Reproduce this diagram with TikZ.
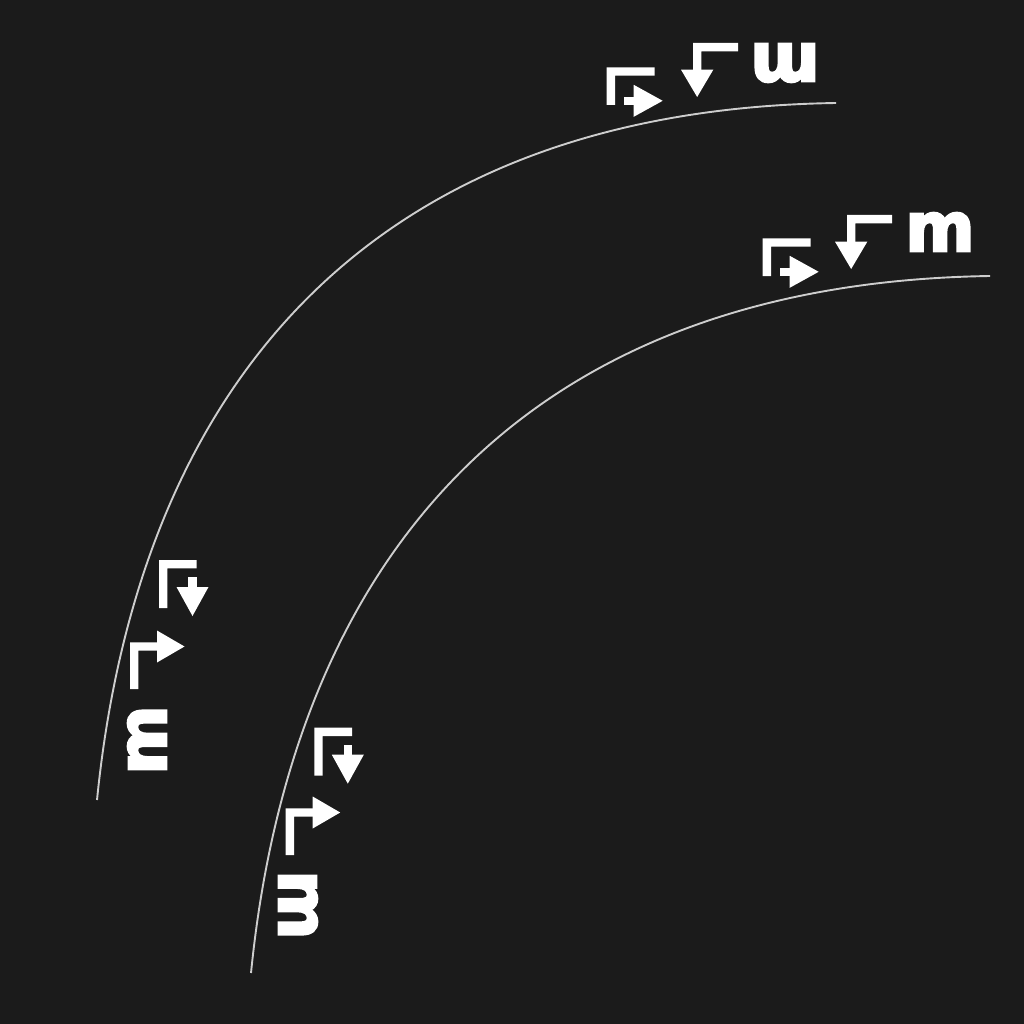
\documentclass[tikz,border=0pt]{standalone}
\usepackage{fontspec}
\usepackage{graphicx}
\newfontfamily\mfont{DejaVu Sans}[BoldFeatures={FakeBold=4}]
\definecolor{bgcol}{RGB}{27,27,27}
\definecolor{curvecol}{RGB}{205,205,205}
\newcommand{\mglyph}{\resizebox{69pt}{38pt}{\mfont\bfseries m}}
\tikzset{
  curveline/.style={draw=curvecol, line width=1.9pt},
  mlab/.style={inner sep=0pt, outer sep=0pt, text=white},
  symfill/.style={fill=white, draw=none},
  % Gamma with small right arrow in its corner
  symA/.pic={
    \path[symfill] (0,0) -- (48,0) -- (48,8.3) -- (8.3,8.3) -- (8.3,37.7) -- (0,37.7) -- cycle;
    \path[symfill] (17,29.4) rectangle (27.5,37.7);
    \path[symfill] (27,17.5) -- (56,33.5) -- (27,49.5) -- cycle;
  },
  % bar with stem going down into a down arrow
  symB/.pic={
    \path[symfill] (0,0) -- (45,0) -- (45,8.3) -- (8.3,8.3) -- (8.3,26.8) -- (0,26.8) -- cycle;
    \path[symfill] (-12,26.7) -- (20.3,26.7) -- (4.15,54) -- cycle;
  },
  % Gamma with small down arrow in its corner
  symC/.pic={
    \path[symfill] (0,0) -- (37.7,0) -- (37.7,8.3) -- (8.3,8.3) -- (8.3,48) -- (0,48) -- cycle;
    \path[symfill] (29.4,17) rectangle (37.7,27.5);
    \path[symfill] (17.5,27) -- (49.5,27) -- (33.5,56) -- cycle;
  },
  % up then right arrow
  symD/.pic={
    \path[symfill] (0,0) -- (0,-46.7) -- (27.5,-46.7) -- (27.5,-38.4) -- (8.3,-38.4) -- (8.3,0) -- cycle;
    \path[symfill] (27,-58.5) -- (54.5,-42.5) -- (27,-26.5) -- cycle;
  }
}
\begin{document}
\begin{tikzpicture}[x=1pt,y=-1pt]
  \fill[bgcol] (0,0) rectangle (1024,1024);
  \useasboundingbox (0,0) rectangle (1024,1024);

  % curves
  \coordinate (os) at (97,800);
  \coordinate (oc1) at (138,390);
  \coordinate (oc2) at (365,110);
  \coordinate (oe) at (836,103);
  \coordinate (is) at (251,973);
  \coordinate (ic1) at (292,563);
  \coordinate (ic2) at (519,283);
  \coordinate (ie) at (990,276);
  \draw[curveline] (os) .. controls (oc1) and (oc2) .. (oe);
  \draw[curveline] (is) .. controls (ic1) and (ic2) .. (ie);

  % outer curve, top labels
  \pic (oA) at (606.7,67.3) {symA};
  \pic (oB) at (693,43) {symB};
  \node[mlab, rotate=180] (om) at (785,63) {\mglyph};

  % inner curve, top labels
  \pic (iA) at (762.7,238.3) {symA};
  \pic (iB) at (847,215) {symB};
  \node[mlab] (im) at (940,232) {\mglyph};

  % outer curve, bottom labels
  \pic (oC) at (159,560) {symC};
  \pic (oD) at (130,689) {symD};
  \node[mlab, rotate=90] (obm) at (147,740) {\mglyph};

  % inner curve, bottom labels
  \pic (iC) at (314.3,727.7) {symC};
  \pic (iD) at (285.7,855) {symD};
  \node[mlab, rotate=-90] (ibm) at (298,905) {\mglyph};
\end{tikzpicture}
\end{document}
